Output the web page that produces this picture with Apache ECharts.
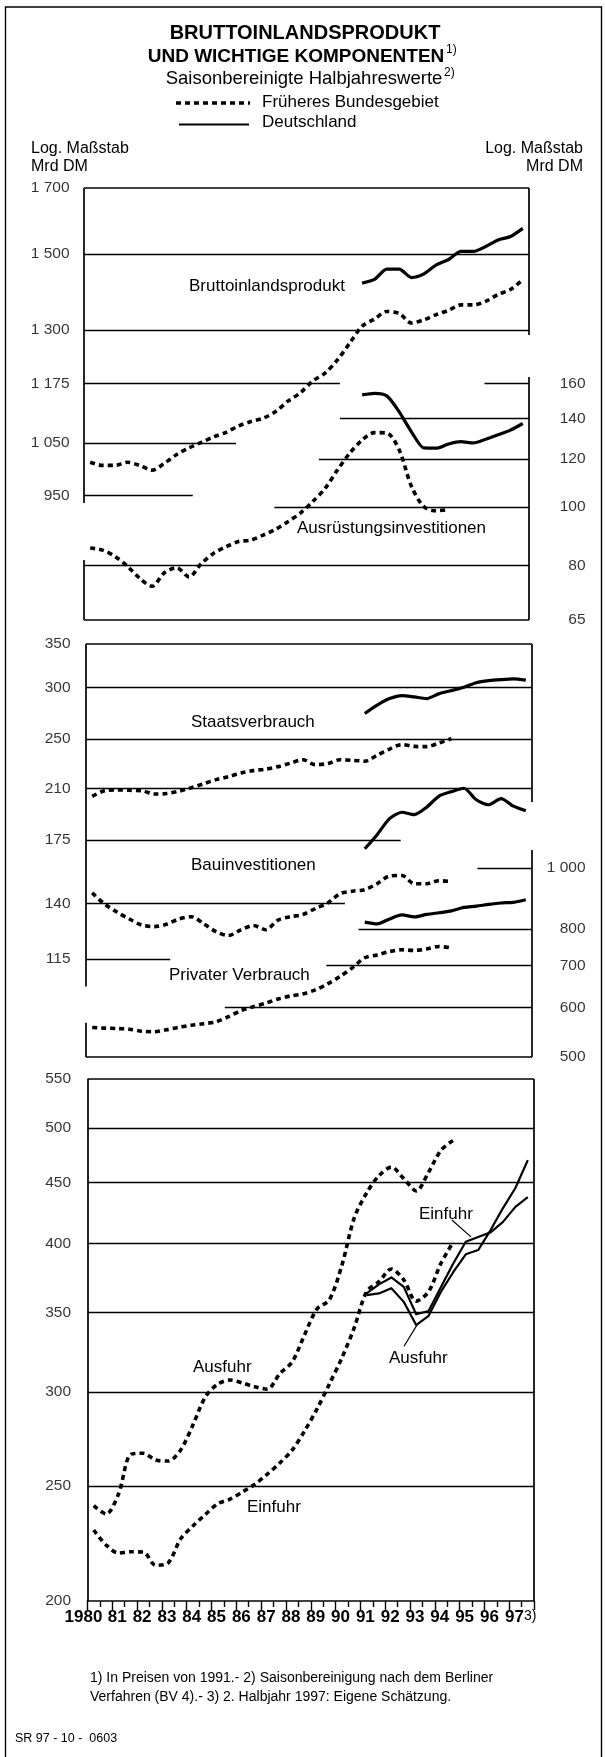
<!DOCTYPE html>
<html>
<head>
<meta charset="utf-8">
<script src="https://cdn.jsdelivr.net/npm/echarts@6/dist/echarts.min.js"></script>
<style>
  html, body { margin: 0; padding: 0; background: #fff; }
  #chart { width: 605px; height: 1757px; }
</style>
</head>
<body>
<div id="chart"></div>
<script>
// ---- Half-year periods, 1980 first half to 1997 second half ----
const years = [1980, 1981, 1982, 1983, 1984, 1985, 1986, 1987, 1988,
               1989, 1990, 1991, 1992, 1993, 1994, 1995, 1996, 1997];
const halfYears = years.flatMap(y => [y + '/1', y + '/2']);
const yearTickLabels = ['1980', '81', '82', '83', '84', '85', '86', '87', '88',
                        '89', '90', '91', '92', '93', '94', '95', '96', '97'];

// ---- Values in Mrd DM, prices of 1991 (null = not published for that area) ----
// Bruttoinlandsprodukt
const bipWest = [1012, 1006, 1006, 1012, 1006, 997, 1010, 1027, 1040, 1051, 1062, 1071,
                 1084, 1093, 1100, 1114, 1136, 1154, 1180, 1198, 1228, 1268, 1309, 1327,
                 1346, 1341, 1317, 1325, 1338, 1349, 1363, 1363, 1372, 1390, 1403, 1430];
const bipGesamt = [null, null, null, null, null, null, null, null, null, null, null, null,
                   null, null, null, null, null, null, null, null, null, null, 1420, 1430,
                   1458, 1458, 1435, 1445, 1470, 1485, 1508, 1508, 1522, 1541, 1551, 1575];
// Ausruestungsinvestitionen
const ausrWest = [85.5, 84.8, 82.8, 79.8, 76.2, 73.9, 77.8, 79.3, 76.6, 80.6, 83.8, 85.9,
                  87.6, 88.1, 89.8, 91.8, 94.5, 97.6, 102, 107.2, 115, 122.6, 128.9, 132.6,
                  132.4, 124.1, 108, 100, 98.5, 99, null, null, null, null, null, null];
const ausrGesamt = [null, null, null, null, null, null, null, null, null, null, null, null,
                    null, null, null, null, null, null, null, null, null, null, 153.1, 154,
                    152.5, 143.5, 132.9, 125.1, 125, 127, 128.1, 127.5, 129.3, 131.5, 133.9, 137.3];
// Staatsverbrauch
const staatWest = [204.3, 208.4, 209, 208.7, 208.4, 206, 206.3, 208, 210.6, 213.6, 216.7, 219,
                   221.8, 223.7, 224.9, 226.9, 229.7, 232.5, 228.5, 229.3, 232.5, 232, 231.3, 236.3,
                   241.4, 245.3, 243.7, 243.5, 246.7, 250.5, null, null, null, null, null, null];
const staatGesamt = [null, null, null, null, null, null, null, null, null, null, null, null,
                     null, null, null, null, null, null, null, null, null, null, 273.7, 282,
                     288.6, 291.7, 290.3, 288.6, 293.7, 296.9, 300.4, 305.2, 307.5, 308.6, 309.3, 308];
// Bauinvestitionen
const bauWest = [145.2, 139.6, 135.7, 132.4, 129.6, 128.9, 130, 132.4, 133.5, 130.2, 126.6, 124.9,
                 127.4, 129.4, 127.5, 131.9, 133.5, 134.5, 137.4, 140.1, 144.8, 146.1, 146.9, 150,
                 154.1, 154.4, 150, 150, 151.6, 151.2, null, null, null, null, null, null];
const bauGesamt = [null, null, null, null, null, null, null, null, null, null, null, null,
                   null, null, null, null, null, null, null, null, null, null, 169.7, 178.4,
                   188.8, 193.1, 191.5, 196.6, 204.5, 207.7, 210.2, 201.8, 198.3, 202.6, 197.3, 194.1];
// Privater Verbrauch
const pvWest = [557.1, 555.9, 555, 553.5, 549.5, 548.5, 552.5, 557.6, 561.8, 565, 568.9, 579.7,
                592.5, 601.1, 608.9, 618.5, 625.4, 630.1, 639.5, 653.6, 671.5, 693.4, 719.4, 726.9,
                736.1, 740.8, 739, 742.9, 749.7, 746, null, null, null, null, null, null];
const pvGesamt = [null, null, null, null, null, null, null, null, null, null, null, null,
                  null, null, null, null, null, null, null, null, null, null, 819.8, 814.4,
                  829.5, 841.8, 835.6, 843.3, 848.6, 854.2, 865.2, 869.3, 875, 879.5, 881.7, 889.8];
// Ausfuhr
const ausfWest = [240.6, 236.7, 246.1, 265.8, 266.3, 262.8, 262.3, 267.9, 281.3, 297, 304.5, 306.9,
                  305.1, 302.9, 301.5, 310.7, 317.8, 335, 352.2, 358.5, 383, 420, 441, 456,
                  463.7, 453.4, 442.8, 459.1, 479.1, 488.5, null, null, null, null, null, null];
const ausfGesamt = [null, null, null, null, null, null, null, null, null, null, null, null,
                    null, null, null, null, null, null, null, null, null, null, 361.8, 363,
                    366.7, 357.1, 341.4, 347.6, 364.2, 378.4, 391.6, 394.8, 410.4, 428.3, 445.3, 470];
// Einfuhr
const einfWest = [229.5, 222.9, 219.5, 220, 219.9, 214.3, 215.3, 225.5, 231.3, 236.5, 241.5, 243.7,
                  247.1, 250.8, 255.8, 261.3, 267.9, 278, 290.1, 304.5, 320.2, 339.5, 364.2, 371.4,
                  380.6, 372.6, 357.6, 364.2, 384.9, 401.2, null, null, null, null, null, null];
const einfGesamt = [null, null, null, null, null, null, null, null, null, null, null, null,
                    null, null, null, null, null, null, null, null, null, null, 363, 369.4,
                    374.4, 367.6, 348.6, 350.8, 367.6, 384.9, 401.2, 405, 408.6, 417, 429.3, 437.5];

// ---- Scale tick labels (log scales, Mrd DM) ----
const ticksBip = [1700, 1500, 1300, 1175, 1050, 950];
const ticksAusr = [160, 140, 120, 100, 80, 65];
const ticksStaatBau = [350, 300, 250, 210, 175, 140, 115];
const ticksPv = [1000, 800, 700, 600, 500];
const ticksHandel = [550, 500, 450, 400, 350, 300, 250, 200];

// ---- Helpers ----
const FONT = "'Liberation Sans', Arial, Helvetica, sans-serif";
const INK = '#000';
const FRAME_W = 1.7;
const RULE_W = 1.3;

// mid-point of each half year on the time axis
function halfYearPos(label) {
  const [y, h] = label.split('/');
  return Number(y) + (h === '1' ? 0.25 : 0.75);
}
function points(values) {
  const out = [];
  values.forEach((v, i) => { if (v != null) out.push([halfYearPos(halfYears[i]), v]); });
  return out;
}
function fmtNum(v) {
  const s = String(v);
  return v >= 1000 ? s.slice(0, s.length - 3) + ' ' + s.slice(-3) : s;
}

const dashedStyle = { color: INK, width: 3.6, type: [5, 4], cap: 'butt', join: 'round' };
function dashedSeries(name, values, xi, yi) {
  return { type: 'line', name, data: points(values), xAxisIndex: xi, yAxisIndex: yi,
           showSymbol: false, smooth: 0.3, lineStyle: dashedStyle, silent: true, clip: false, z: 3 };
}
function solidSeries(name, values, xi, yi, width, smooth) {
  return { type: 'line', name, data: points(values), xAxisIndex: xi, yAxisIndex: yi,
           showSymbol: false, smooth, silent: true, clip: false, z: 4,
           lineStyle: { color: INK, width, type: 'solid', join: 'round' } };
}

// rule segments in axis units: horizontal at value v, vertical at year x
function hSeg(v, x1, x2, w) { return [{ coord: [x1, v], lineStyle: { width: w || RULE_W } }, { coord: [x2, v] }]; }
function vSeg(x, v1, v2, w) { return [{ coord: [x, v1], lineStyle: { width: w || FRAME_W } }, { coord: [x, v2] }]; }
function leader(x1, v1, x2, v2) { return [{ coord: [x1, v1], lineStyle: { width: 1.2 } }, { coord: [x2, v2] }]; }

function rulesSeries(xi, yi, anchor, segs) {
  return {
    type: 'line', xAxisIndex: xi, yAxisIndex: yi, data: [anchor], showSymbol: false,
    lineStyle: { opacity: 0 }, silent: true, clip: false, z: 2,
    markLine: {
      silent: true, symbol: ['none', 'none'], animation: false,
      label: { show: false }, emphasis: { disabled: true },
      lineStyle: { color: INK, width: RULE_W, type: 'solid' },
      data: segs
    }
  };
}

function tickLabelSeries(xi, yi, ticks, edgeYear, side, dist) {
  return {
    type: 'scatter', xAxisIndex: xi, yAxisIndex: yi, silent: true, z: 5,
    data: ticks.map(v => [edgeYear, v]), symbolSize: 1,
    itemStyle: { color: 'transparent' },
    label: {
      show: true, position: side, distance: dist, align: 'right',
      formatter: p => fmtNum(p.value[1]), color: INK, fontFamily: FONT, fontSize: 15.5
    }
  };
}

// ---- Panel geometry ----
const panels = [
  { left: 84, top: 188, width: 445, height: 432 },
  { left: 86, top: 644, width: 446, height: 413 },
  { left: 87.5, top: 1079, width: 446.5, height: 522 }
];
const LABEL_RIGHT = 585;

const grids = panels.map(p => ({ left: p.left, top: p.top, width: p.width, height: p.height,
                                 outerBoundsMode: 'none', containLabel: false, show: false }));

const hiddenX = gi => ({ type: 'value', gridIndex: gi, min: 1980, max: 1998, show: false });
const yearLabelStyle = { color: INK, fontFamily: FONT, fontWeight: 'bold', fontSize: 17 };

const xAxes = [
  hiddenX(0),
  hiddenX(1),
  {
    type: 'value', gridIndex: 2, position: 'bottom', min: 1980, max: 1998, interval: 1,
    axisLine: { show: true, onZero: false, lineStyle: { color: INK, width: FRAME_W } },
    axisTick: { show: true, inside: false, length: 9, lineStyle: { color: INK, width: 1.4 } },
    minorTick: { show: true, splitNumber: 2, length: 6, lineStyle: { color: INK, width: 1.4 } },
    splitLine: { show: false }, minorSplitLine: { show: false },
    axisLabel: Object.assign({
      show: true, interval: 0, margin: 8, hideOverlap: false, showMinLabel: false, showMaxLabel: true,
      padding: [0, 0, 0, 10],
      formatter: v => {
        const idx = years.indexOf(v);
        if (idx <= 0) return '';
        return v === 1997 ? '{n|' + yearTickLabels[idx] + '}{s|3)}' : yearTickLabels[idx];
      },
      rich: {
        n: Object.assign({ padding: [0, 0, 0, 13] }, yearLabelStyle),
        s: { fontFamily: FONT, fontSize: 14, fontWeight: 'normal', color: INK, padding: [0, 0, 3, 0] }
      }
    }, yearLabelStyle)
  },
  {
    // first year written in full
    type: 'value', gridIndex: 2, position: 'bottom', min: 1980, max: 1998, interval: 18,
    axisLine: { show: false }, axisTick: { show: false }, splitLine: { show: false },
    axisLabel: Object.assign({
      show: true, margin: 8, showMinLabel: true, padding: [0, 8, 0, 0],
      formatter: v => (v === years[0] ? yearTickLabels[0] : '')
    }, yearLabelStyle)
  }
];

const logAxis = (gi, min, max, pos) => ({
  type: 'log', gridIndex: gi, min, max, logBase: 10, position: pos,
  axisLine: { show: false }, axisTick: { show: false }, axisLabel: { show: false },
  splitLine: { show: false }, minorTick: { show: false }, minorSplitLine: { show: false }
});

const yAxes = [
  logAxis(0, 751, 1700, 'left'),     // 0 Bruttoinlandsprodukt
  logAxis(0, 65, 336.4, 'right'),    // 1 Ausruestungsinvestitionen
  logAxis(1, 81.3, 350, 'left'),     // 2 Staatsverbrauch, Bauinvestitionen
  logAxis(1, 500, 2273, 'right'),    // 3 Privater Verbrauch
  logAxis(2, 200, 550, 'left')       // 4 Ausfuhr, Einfuhr
];

const series = [
  // Panel 1
  rulesSeries(0, 0, [1980, 1700], [
    hSeg(1700, 1980, 1998, FRAME_W), hSeg(1500, 1980, 1998), hSeg(1300, 1980, 1998),
    hSeg(1175, 1980, 1990.35), hSeg(1050, 1980, 1986.15), hSeg(950, 1980, 1984.4),
    vSeg(1980, 1700, 937), vSeg(1998, 1700, 1287.6)
  ]),
  rulesSeries(0, 1, [1980, 65], [
    hSeg(160, 1996.2, 1998), hSeg(140, 1990.35, 1998), hSeg(120, 1989.5, 1998),
    hSeg(100, 1987.7, 1998), hSeg(80, 1980, 1998), hSeg(65, 1980, 1998, FRAME_W),
    vSeg(1980, 81.7, 65), vSeg(1998, 163.9, 65)
  ]),
  tickLabelSeries(0, 0, ticksBip, 1980, 'left', 14),
  tickLabelSeries(0, 1, ticksAusr, 1998, 'right', LABEL_RIGHT - (panels[0].left + panels[0].width)),
  dashedSeries('Bruttoinlandsprodukt, früheres Bundesgebiet', bipWest, 0, 0),
  solidSeries('Bruttoinlandsprodukt, Deutschland', bipGesamt, 0, 0, 3.2, 0.25),
  dashedSeries('Ausrüstungsinvestitionen, früheres Bundesgebiet', ausrWest, 0, 1),
  solidSeries('Ausrüstungsinvestitionen, Deutschland', ausrGesamt, 0, 1, 3.2, 0.25),

  // Panel 2
  rulesSeries(1, 2, [1980, 350], [
    hSeg(350, 1980, 1998, FRAME_W), hSeg(300, 1980, 1998), hSeg(250, 1980, 1998),
    hSeg(210, 1980, 1998), hSeg(175, 1980, 1992.7), hSeg(140, 1980, 1990.45),
    hSeg(115, 1980, 1983.4),
    vSeg(1980, 350, 104.3), vSeg(1998, 350, 200.2)
  ]),
  rulesSeries(1, 3, [1980, 500], [
    hSeg(1000, 1995.8, 1998), hSeg(800, 1991.0, 1998), hSeg(700, 1989.7, 1998),
    hSeg(600, 1985.6, 1998), hSeg(500, 1980, 1998, FRAME_W),
    vSeg(1980, 567, 500), vSeg(1998, 1068, 500)
  ]),
  tickLabelSeries(1, 2, ticksStaatBau, 1980, 'left', 15),
  tickLabelSeries(1, 3, ticksPv, 1998, 'right', LABEL_RIGHT - (panels[1].left + panels[1].width)),
  dashedSeries('Staatsverbrauch, früheres Bundesgebiet', staatWest, 1, 2),
  solidSeries('Staatsverbrauch, Deutschland', staatGesamt, 1, 2, 3.2, 0.25),
  dashedSeries('Bauinvestitionen, früheres Bundesgebiet', bauWest, 1, 2),
  solidSeries('Bauinvestitionen, Deutschland', bauGesamt, 1, 2, 3.2, 0.25),
  dashedSeries('Privater Verbrauch, früheres Bundesgebiet', pvWest, 1, 3),
  solidSeries('Privater Verbrauch, Deutschland', pvGesamt, 1, 3, 3.2, 0.25),

  // Panel 3
  rulesSeries(2, 4, [1980, 550], [
    hSeg(550, 1980, 1998, FRAME_W), hSeg(500, 1980, 1998), hSeg(450, 1980, 1998),
    hSeg(400, 1980, 1998), hSeg(350, 1980, 1998), hSeg(300, 1980, 1998), hSeg(250, 1980, 1998),
    vSeg(1980, 550, 200), vSeg(1998, 550, 200),
    // pointers from the Deutschland labels to their curves
    leader(1994.69, 418.5, 1995.46, 405),
    leader(1992.76, 327.7, 1993.28, 341.4)
  ]),
  tickLabelSeries(2, 4, ticksHandel, 1980, 'left', 16),
  dashedSeries('Ausfuhr, früheres Bundesgebiet', ausfWest, 2, 4),
  dashedSeries('Einfuhr, früheres Bundesgebiet', einfWest, 2, 4),
  solidSeries('Ausfuhr, Deutschland', ausfGesamt, 2, 4, 2.2, 0),
  solidSeries('Einfuhr, Deutschland', einfGesamt, 2, 4, 2.2, 0)
];

// ---- Titles, legend, notes ----
function txt(text, x, y, size, opts) {
  opts = opts || {};
  return {
    type: 'text', silent: true, z: 10,
    style: {
      text, x, y, fill: INK,
      font: (opts.bold ? 'bold ' : '') + size + 'px ' + FONT,
      textAlign: opts.align || 'left', align: opts.align || 'left',
      textVerticalAlign: 'middle', verticalAlign: 'middle'
    }
  };
}

const graphics = [
  { type: 'rect', silent: true, z: 0,
    shape: { x: 5.5, y: 7, width: 596, height: 1770 },
    style: { fill: null, stroke: INK, lineWidth: 1.4 } },

  txt('BRUTTOINLANDSPRODUKT', 305, 33, 20, { bold: true, align: 'center' }),
  txt('UND WICHTIGE KOMPONENTEN', 296, 56.5, 19, { bold: true, align: 'center' }),
  txt('1)', 446, 50, 12),
  txt('Saisonbereinigte Halbjahreswerte', 304, 79, 18.5, { align: 'center' }),
  txt('2)', 444, 73, 12),

  { type: 'line', silent: true, z: 10,
    shape: { x1: 176, y1: 103, x2: 250, y2: 103 },
    style: { stroke: INK, lineWidth: 3.6, lineDash: [5, 4] } },
  txt('Früheres Bundesgebiet', 262, 102, 17),
  { type: 'line', silent: true, z: 10,
    shape: { x1: 179, y1: 124.5, x2: 249, y2: 124.5 },
    style: { stroke: INK, lineWidth: 2.2 } },
  txt('Deutschland', 262, 122, 17),

  txt('Log. Maßstab', 31, 149, 16),
  txt('Mrd DM', 31, 167, 16),
  txt('Log. Maßstab', 583, 149, 16, { align: 'right' }),
  txt('Mrd DM', 583, 167, 16, { align: 'right' }),

  txt('Bruttoinlandsprodukt', 189, 286, 17),
  txt('Ausrüstungsinvestitionen', 297, 528, 17),
  txt('Staatsverbrauch', 191, 722, 17),
  txt('Bauinvestitionen', 191, 865, 17),
  txt('Privater Verbrauch', 169, 975, 17),
  txt('Einfuhr', 419, 1214, 17),
  txt('Ausfuhr', 389, 1358, 17),
  txt('Ausfuhr', 193, 1367, 17),
  txt('Einfuhr', 247, 1507, 17),

  txt('1) In Preisen von 1991.- 2) Saisonbereinigung nach dem Berliner', 90, 1678, 14),
  txt('Verfahren (BV 4).- 3) 2. Halbjahr 1997: Eigene Schätzung.', 90, 1697, 14),
  txt('SR 97 - 10 -  0603', 15, 1739, 12.5)
];

const chart = echarts.init(document.getElementById('chart'), null, { renderer: 'canvas' });
chart.setOption({
  backgroundColor: '#fff',
  animation: false,
  textStyle: { fontFamily: FONT },
  grid: grids,
  xAxis: xAxes,
  yAxis: yAxes,
  series,
  graphic: graphics
});
</script>
</body>
</html>
